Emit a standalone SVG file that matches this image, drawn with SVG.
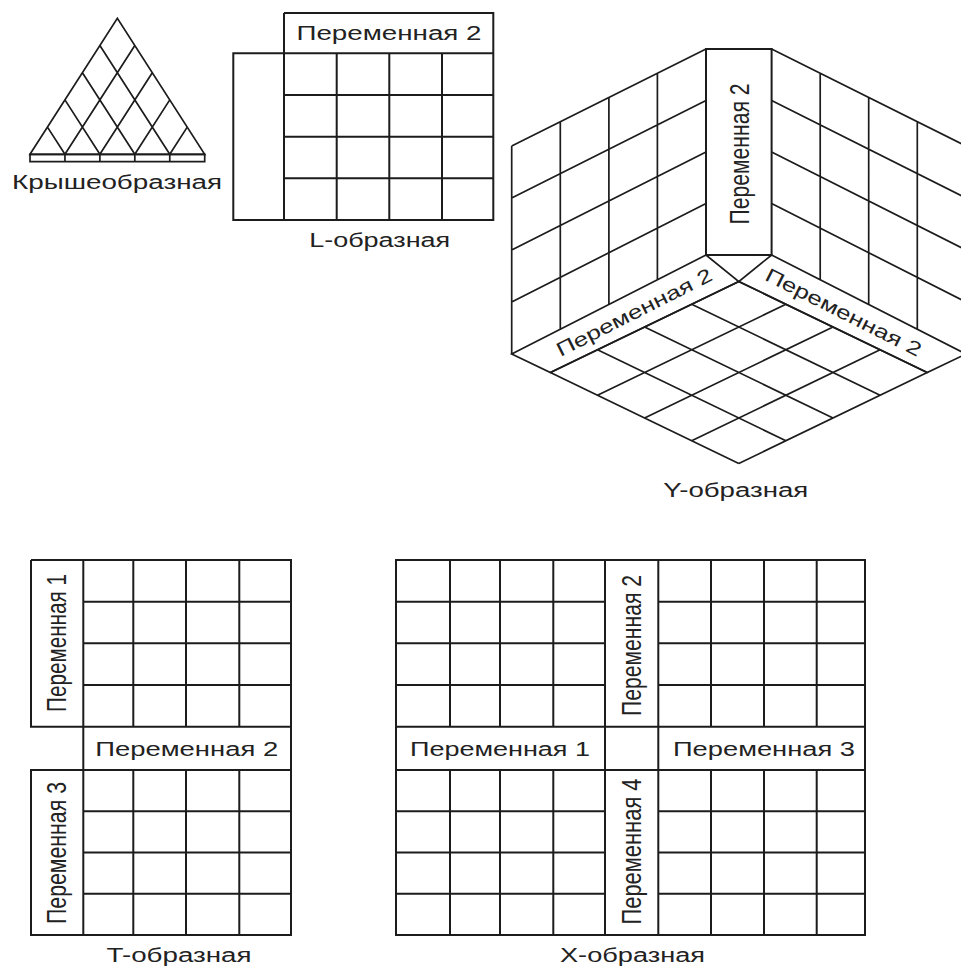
<svg xmlns="http://www.w3.org/2000/svg" width="961" height="966" viewBox="0 0 961 966">
<style>
.ln{fill:none;stroke:#1c1c1c;stroke-width:2;stroke-linejoin:miter}
.thin{fill:none;stroke:#1c1c1c;stroke-width:1.7;stroke-linejoin:miter}
.t{font-family:"Liberation Sans",Arial,sans-serif;fill:#222;font-size:19.5px;text-anchor:middle}
.cap{font-family:"Liberation Sans",Arial,sans-serif;fill:#222;font-size:20px;text-anchor:middle}
</style>
<defs>
<path id="ywall" class="thin" d="M511.7 146 L706 49 M511.7 198 L706 100.5 M511.7 250 L706 152 M511.7 302 L706 203.5 M511.7 354 L706 255 M511.7 146 V354 M560.3 121.75 V329.25 M608.9 97.5 V304.5 M657.4 73.25 V279.75 M511.7 354 L706 255 L738.8 281.5 L550.4 372.5 Z"/>
</defs>
<rect width="961" height="966" fill="#fff"/>

<g id="roof">
<path class="thin" d="M30 154.3 L117.35 18.3 L204.7 154.3 Z M64.94 154.3 L134.82 45.5 M64.94 154.3 L47.47 127.1 M99.88 154.3 L152.29 72.7 M99.88 154.3 L64.94 99.9 M134.82 154.3 L169.76 99.9 M134.82 154.3 L82.41 72.7 M169.76 154.3 L187.23 127.1 M169.76 154.3 L99.88 45.5"/>
<path class="thin" d="M30 154.3 H204.7 V161.7 H30 Z M64.94 154.3 V161.7 M99.88 154.3 V161.7 M134.82 154.3 V161.7 M169.76 154.3 V161.7"/>
<text class="t" x="117" y="188.5" font-size="17.5" textLength="210" lengthAdjust="spacingAndGlyphs">Крышеобразная</text>
</g>

<g id="l-shape">
<path class="ln" d="M284 13 H493.3 V220 H233.3 V53.3 H493.3 M284 13 V220 M336.7 53.3 V220 M389.3 53.3 V220 M442 53.3 V220 M284 95 H493.3 M284 136.7 H493.3 M284 178.3 H493.3"/>
<text class="t" x="389" y="40" textLength="185" lengthAdjust="spacingAndGlyphs">Переменная 2</text>
<text class="cap" x="379.7" y="247" textLength="141" lengthAdjust="spacingAndGlyphs">L-образная</text>
</g>

<g id="y-shape">
<use href="#ywall"/>
<use href="#ywall" transform="translate(1477.6 0) scale(-1 1)"/>
<rect class="ln" x="706" y="49" width="65.6" height="206"/>
<path class="thin" d="M738.8 281.5 L927.2 372.5 M691.7 304.25 L880.1 395.25 M644.6 327 L833 418 M597.5 349.75 L785.9 440.75 M550.4 372.5 L738.8 463.5 M738.8 281.5 L550.4 372.5 M785.9 304.25 L597.5 395.25 M833 327 L644.6 418 M880.1 349.75 L691.7 440.75 M927.2 372.5 L738.8 463.5"/>
<text class="t" transform="translate(738.8 154) scale(1.4 1) rotate(-90)" x="0" y="7" textLength="141" lengthAdjust="spacingAndGlyphs">Переменная 2</text>
<text class="t" transform="translate(634 312) rotate(-26.8)" x="0" y="7" font-size="19" textLength="172" lengthAdjust="spacingAndGlyphs">Переменная 2</text>
<text class="t" transform="translate(843.6 312) rotate(26.8)" x="0" y="7" font-size="19" textLength="172" lengthAdjust="spacingAndGlyphs">Переменная 2</text>
<text class="cap" x="735.8" y="496.5" textLength="145" lengthAdjust="spacingAndGlyphs">Y-образная</text>
</g>

<g id="t-shape">
<path class="ln" d="M31 560 H291 V935 H31 V770 H291 M31 560 V726.7 H291 M83.3 560 V935 M133.3 560 V726.7 M186 560 V726.7 M239.3 560 V726.7 M83.3 601.7 H291 M83.3 643.3 H291 M83.3 685 H291 M133.3 770 V935 M186 770 V935 M239.3 770 V935 M83.3 811.3 H291 M83.3 852.5 H291 M83.3 893.8 H291"/>
<text class="t" transform="translate(56.5 643) scale(1.4 1) rotate(-90)" x="0" y="7" textLength="138" lengthAdjust="spacingAndGlyphs">Переменная 1</text>
<text class="t" transform="translate(56.5 853) scale(1.4 1) rotate(-90)" x="0" y="7" textLength="142" lengthAdjust="spacingAndGlyphs">Переменная 3</text>
<text class="t" x="186.7" y="755.5" textLength="183" lengthAdjust="spacingAndGlyphs">Переменная 2</text>
<text class="cap" x="179" y="962" textLength="145" lengthAdjust="spacingAndGlyphs">T-образная</text>
</g>

<g id="x-shape">
<path class="ln" d="M396 560 H865 V935 H396 Z M396 726.7 H865 M396 770 H865 M605 560 V935 M658.3 560 V935 M450 560 V726.7 M500 560 V726.7 M553.3 560 V726.7 M711 560 V726.7 M764 560 V726.7 M816.7 560 V726.7 M450 770 V935 M500 770 V935 M553.3 770 V935 M711 770 V935 M764 770 V935 M816.7 770 V935 M396 601.7 H605 M396 643.3 H605 M396 685 H605 M658.3 601.7 H865 M658.3 643.3 H865 M658.3 685 H865 M396 811.3 H605 M396 852.5 H605 M396 893.8 H605 M658.3 811.3 H865 M658.3 852.5 H865 M658.3 893.8 H865"/>
<text class="t" transform="translate(631.5 645.5) scale(1.4 1) rotate(-90)" x="0" y="7" textLength="141" lengthAdjust="spacingAndGlyphs">Переменная 2</text>
<text class="t" transform="translate(631.5 851.5) scale(1.4 1) rotate(-90)" x="0" y="7" textLength="146" lengthAdjust="spacingAndGlyphs">Переменная 4</text>
<text class="t" x="500" y="755.5" textLength="180" lengthAdjust="spacingAndGlyphs">Переменная 1</text>
<text class="t" x="764" y="755.5" textLength="182" lengthAdjust="spacingAndGlyphs">Переменная 3</text>
<text class="cap" x="632.5" y="962" textLength="145" lengthAdjust="spacingAndGlyphs">X-образная</text>
</g>
</svg>
